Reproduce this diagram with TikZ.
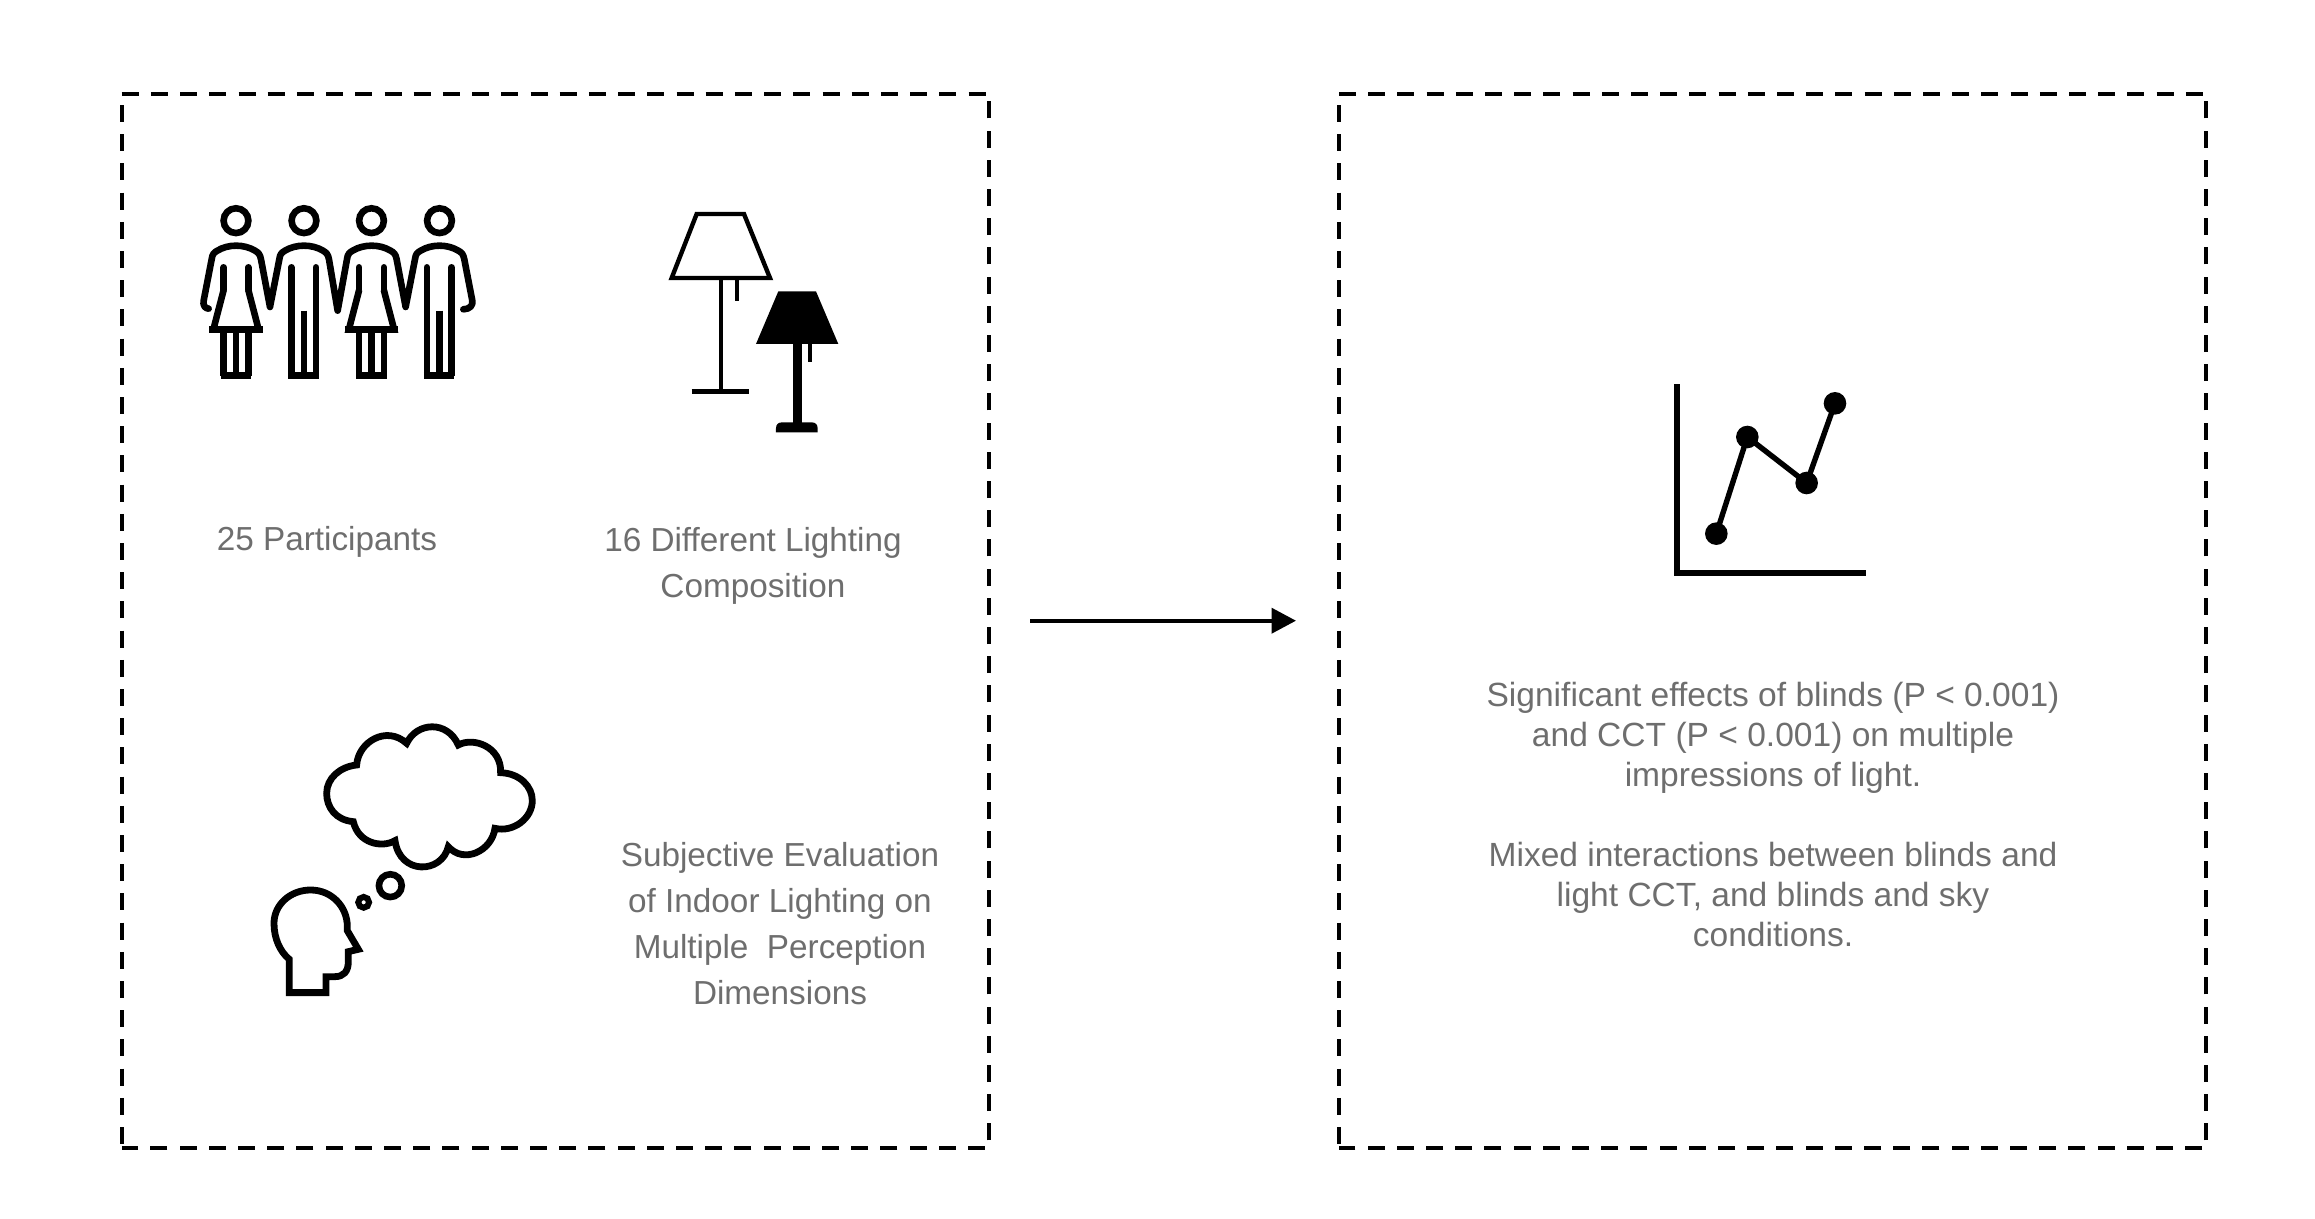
\documentclass[tikz,border=0pt]{standalone}
\usepackage{fontspec}
\setmainfont{Liberation Sans}
\usetikzlibrary{arrows.meta}
\definecolor{txtgray}{HTML}{6E6E6E}
\tikzset{
  framebox/.style={inner sep=0pt,minimum width=866.8pt,minimum height=1053.7pt,anchor=north west},
  frameside/.style={line width=4.3pt,dash pattern=on 17pt off 12.2pt},
  lefttxt/.style={text=txtgray,font=\fontsize{33.3}{46}\selectfont,align=center,inner sep=0pt},
  righttxt/.style={text=txtgray,font=\fontsize{33.55}{40}\selectfont,align=center,inner sep=0pt},
  icon/.style={line width=6.6pt,line join=miter,line cap=butt},
}
\newcommand{\womanfig}[1]{%
  \begin{scope}[shift={(#1,0)},x=0.3333pt,y=-0.3333pt]
    \draw[icon] (198,122) circle[radius=12.4pt];
    \draw[icon,line cap=round] (161,262) -- (161,330);
    \draw[icon,line cap=round] (235,262) -- (235,330);
    \draw[icon] (161,330) -- (130,449) -- (266,449) -- (235,330);
    \draw[icon] (118,449) -- (278,449);
    \draw[icon] (161,449) -- (161,587) (235,449) -- (235,587) (198,449) -- (198,587);
    \draw[icon] (152,587) -- (244,587);
  \end{scope}}
\newcommand{\manfig}[1]{%
  \begin{scope}[shift={(#1,0)},x=0.3333pt,y=-0.3333pt]
    \draw[icon] (402,122) circle[radius=12.4pt];
    \draw[icon,line cap=round] (364,262) -- (364,300);
    \draw[icon,line cap=round] (438,262) -- (438,300);
    \draw[icon] (364,300) -- (364,587) (438,300) -- (438,587) (402,392) -- (402,587);
    \draw[icon] (355,587) -- (447,587);
  \end{scope}}
\begin{document}
\begin{tikzpicture}[x=1pt,y=-1pt]
\useasboundingbox (0,0) rectangle (2315,1218);
% frames
\node[framebox] (leftframe) at (121.7,94) {};
\node[framebox] (rightframe) at (1339,94) {};
\foreach \f in {leftframe,rightframe}{
  \draw[frameside] (\f.north west) -- (\f.north east);
  \draw[frameside,dash phase=21.5pt] (\f.south east) -- (\f.north east);
  \draw[frameside,dash phase=25.2pt] (\f.south east) -- (\f.south west);
  \draw[frameside,dash phase=18.2pt] (\f.north west) -- (\f.south west);
}
% arrow
\coordinate (arrowstart) at (1030,620.7);
\coordinate (arrowend) at (1296,620.7);
\draw[line width=4pt,-{Triangle[length=24.5pt,width=25pt]}] (arrowstart) -- (arrowend);
% people
\begin{scope}[shift={(170,180)},x=0.3333pt,y=-0.3333pt]
  \draw[icon,line cap=round,line join=round]
    (116,386) .. controls (105,386) and (98,375) .. (101,362)
    -- (125,238) .. controls (127,222) and (132,218) .. (142,212)
    .. controls (175,192) and (222,192) .. (255,212)
    .. controls (265,218) and (270,222) .. (273,238)
    -- (300,381) -- (328,238) .. controls (330,222) and (335,218) .. (345,212)
    .. controls (378,192) and (426,192) .. (459,212)
    .. controls (469,218) and (474,222) .. (477,238)
    -- (503,392) -- (531,238) .. controls (533,222) and (538,218) .. (548,212)
    .. controls (581,192) and (629,192) .. (662,212)
    .. controls (672,218) and (677,222) .. (680,238)
    -- (707,381) -- (735,238) .. controls (737,222) and (742,218) .. (752,212)
    .. controls (785,192) and (832,192) .. (865,212)
    .. controls (875,218) and (880,222) .. (883,238)
    -- (907,362) .. controls (910,375) and (900,388) .. (880,388);
\end{scope}
\begin{scope}[shift={(170,180)}]
  \womanfig{0}
  \manfig{0}
  \womanfig{135.5}
  \manfig{135.5}
\end{scope}
% lamps
\begin{scope}[shift={(640,190)},x=0.3333pt,y=-0.3333pt]
  \draw[line width=4.4pt,line join=miter] (170,72) -- (312,72) -- (390,264) -- (95,264) -- cycle;
  \draw[line width=4.2pt] (242,264) -- (242,605);
  \draw[line width=4.4pt] (155,605) -- (328,605);
  \draw[line width=4.8pt] (291,264) -- (291,333);
  \fill (415,304) -- (528,304) -- (595,462) -- (348,462) -- cycle;
  \fill (458,462) rectangle (486,700);
  \fill (408,727) -- (408,715) .. controls (408,703) and (415,697) .. (427,697)
     -- (514,697) .. controls (526,697) and (533,703) .. (533,715) -- (533,727) -- cycle;
  \draw[line width=3.3pt] (510,462) -- (510,516);
\end{scope}
% thinking head
\begin{scope}[shift={(250,710)},x=0.3333pt,y=-0.3333pt]
  \draw[line width=6.8pt,line join=miter]
    (470,100) .. controls (500,36) and (592,30) .. (625,105)
    .. controls (670,80) and (755,110) .. (752,188)
    .. controls (810,190) and (847,230) .. (847,272)
    .. controls (847,325) and (790,368) .. (735,355)
    .. controls (725,425) and (640,462) .. (595,410)
    .. controls (575,492) and (450,496) .. (435,392)
    .. controls (395,415) and (325,400) .. (310,335)
    .. controls (255,330) and (230,290) .. (230,250)
    .. controls (230,205) and (270,170) .. (320,165)
    .. controls (325,95) and (410,45) .. (470,100) -- cycle;
  \draw[line width=6.6pt] (421,527) circle[radius=11.4pt];
  \draw[line width=6pt] (341,577) circle[radius=5.4pt];
  \draw[line width=6.8pt,line join=miter]
    (118,848) -- (118,748)
    .. controls (90,725) and (72,685) .. (72,640)
    .. controls (72,585) and (120,540) .. (182,540)
    .. controls (245,540) and (292,590) .. (292,650)
    -- (292,662) -- (325,718) -- (295,725) -- (295,755)
    .. controls (295,785) and (280,800) .. (255,800)
    -- (228,800) -- (228,848) -- cycle;
\end{scope}
% chart
\begin{scope}[shift={(1650,370)},x=0.3333pt,y=-0.3333pt]
  \draw[line width=6pt,line join=miter] (81,42) -- (81,610) -- (648,610);
  \draw[line width=5.4pt] (199,491) -- (292,201) -- (470,339) -- (555,100);
  \foreach \p in {(199,491),(292,201),(470,339),(555,100)}
    \fill \p circle[radius=11.3pt];
\end{scope}
% texts (a multi-line node's base is its last line)
\node[lefttxt,anchor=base] (participants) at (327,550.5) {25 Participants};
\node[lefttxt,anchor=base] (lighting) at (753,597) {16 Different Lighting\\Composition};
\node[lefttxt,anchor=base] (evaluation) at (780,1004) {Subjective Evaluation\\of Indoor Lighting on\\Multiple\ \ Perception\\Dimensions};
\node[righttxt,anchor=base] (effects) at (1773,786) {Significant effects of blinds (P < 0.001)\\and CCT (P < 0.001) on multiple\\impressions of light.};
\node[righttxt,anchor=base] (mixed) at (1773,946) {Mixed interactions between blinds and\\light CCT, and blinds and sky\\conditions.};
\end{tikzpicture}
\end{document}
